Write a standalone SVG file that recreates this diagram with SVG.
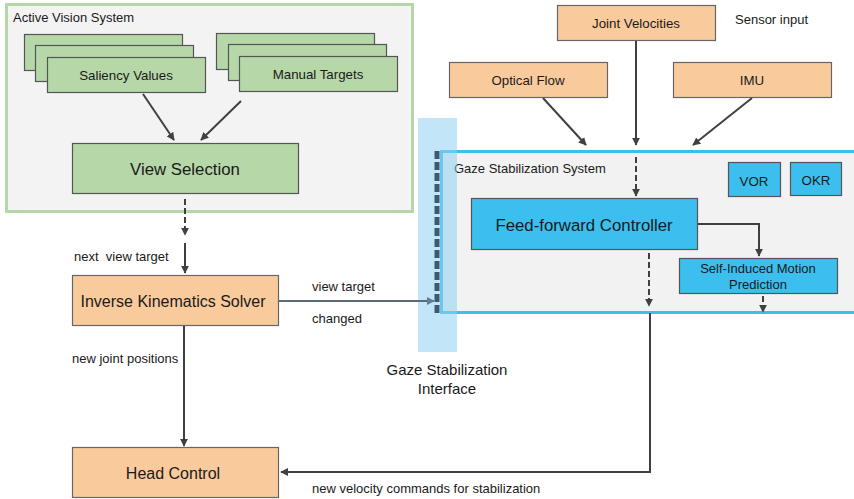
<svg xmlns="http://www.w3.org/2000/svg" width="854" height="499" viewBox="0 0 854 499">
<defs>
<style>
text{font-family:"Liberation Sans",Arial,sans-serif;fill:#1a1a1a}
.g{fill:#b6d7a8;stroke:#555;stroke-width:1.2}
.o{fill:#f9cb9c;stroke:#666;stroke-width:1.2}
.b{fill:#3cbfee;stroke:#555;stroke-width:1.2}
.c{fill:none;stroke:#404040;stroke-width:2}
.d{fill:none;stroke:#404040;stroke-width:2;stroke-dasharray:6,3}
.s12{font-size:13px}
.s13{font-size:13.3px}
.s16{font-size:16.8px}
.s15{font-size:16px}
.s14{font-size:15px}
</style>
<marker id="ah" viewBox="0 0 10 10" refX="9" refY="5" markerWidth="4" markerHeight="4" orient="auto"><path d="M0,0L10,5L0,10z" fill="#404040"/></marker>
<marker id="ahb" viewBox="0 0 10 10" refX="9" refY="5" markerWidth="4" markerHeight="4" orient="auto"><path d="M0,0L10,5L0,10z" fill="#5b7f95"/></marker>
</defs>
<rect width="854" height="499" fill="#fff"/>

<g id="active-vision-system">
<rect x="6.5" y="4.5" width="406" height="207" fill="#f3f3f3" stroke="#b6d7a8" stroke-width="3"/>
<text x="13" y="22" class="s12">Active Vision System</text>
</g>

<g id="gaze-stabilization-system">
<rect x="441.5" y="151.5" width="420" height="161" fill="#f2f2f2" stroke="#3cbfee" stroke-width="3"/>
<text x="454" y="173" class="s12">Gaze Stabilization System</text>
</g>

<g id="gaze-stabilization-interface">
<rect x="418" y="118" width="39" height="234" fill="#8fd0f2" fill-opacity="0.55"/>
<line x1="437" y1="151" x2="437" y2="314" stroke="#3d5a6e" stroke-width="5" stroke-dasharray="8,3"/>
<text x="447" y="375" class="s14" text-anchor="middle">Gaze Stabilization</text>
<text x="447" y="394" class="s14" text-anchor="middle">Interface</text>
</g>

<g id="saliency-values">
<rect x="24.5" y="34.5" width="158" height="36" class="g"/>
<rect x="35.5" y="45.5" width="158" height="36" class="g"/>
<rect x="47.5" y="57.5" width="158" height="35" class="g"/>
<text x="126" y="80" class="s13" text-anchor="middle">Saliency Values</text>
</g>

<g id="manual-targets">
<rect x="216.5" y="33.5" width="158" height="36" class="g"/>
<rect x="228.5" y="44.5" width="158" height="36" class="g"/>
<rect x="239.5" y="56.5" width="158" height="35" class="g"/>
<text x="318" y="79" class="s13" text-anchor="middle">Manual Targets</text>
</g>

<g id="view-selection">
<rect x="72.5" y="143.5" width="226" height="50" class="g"/>
<text x="185" y="175" class="s16" text-anchor="middle">View Selection</text>
</g>

<g id="inverse-kinematics-solver">
<rect x="72.5" y="275.5" width="206" height="50" class="o"/>
<text x="173" y="307" class="s15" text-anchor="middle">Inverse Kinematics Solver</text>
</g>

<g id="head-control">
<rect x="72.5" y="447.5" width="206" height="50" class="o"/>
<text x="173" y="479" class="s15" text-anchor="middle">Head Control</text>
</g>

<g id="joint-velocities">
<rect x="557.5" y="5.5" width="158" height="35" class="o"/>
<text x="636" y="28" class="s13" text-anchor="middle">Joint Velocities</text>
</g>
<g id="sensor-input-label"><text x="735" y="24" class="s12">Sensor input</text></g>

<g id="optical-flow">
<rect x="449.5" y="62.5" width="158" height="35" class="o"/>
<text x="528" y="85" class="s13" text-anchor="middle">Optical Flow</text>
</g>

<g id="imu">
<rect x="673.5" y="62.5" width="158" height="35" class="o"/>
<text x="752" y="85" class="s13" text-anchor="middle">IMU</text>
</g>

<g id="vor">
<rect x="728.5" y="162.5" width="52" height="34" class="b"/>
<text x="754" y="186" class="s13" text-anchor="middle">VOR</text>
</g>

<g id="okr">
<rect x="790.5" y="162.5" width="51" height="33" class="b"/>
<text x="816" y="185" class="s13" text-anchor="middle">OKR</text>
</g>

<g id="feed-forward-controller">
<rect x="471.5" y="198.5" width="226" height="51" class="b"/>
<text x="584" y="231" class="s16" text-anchor="middle">Feed-forward Controller</text>
</g>

<g id="self-induced-motion-prediction">
<rect x="679.5" y="258.5" width="158" height="35" class="b"/>
<text x="758" y="273" class="s12" text-anchor="middle">Self-Induced Motion</text>
<text x="758" y="289" class="s12" text-anchor="middle">Prediction</text>
</g>

<g id="connectors">
<line x1="143" y1="94" x2="174" y2="140" class="c" marker-end="url(#ah)"/>
<line x1="241" y1="101" x2="201" y2="140" class="c" marker-end="url(#ah)"/>
<line x1="185" y1="199" x2="185" y2="235" class="d" marker-end="url(#ah)"/>
<line x1="185" y1="243" x2="185" y2="273" class="c" marker-end="url(#ah)"/>
<text x="74" y="261" class="s12" xml:space="preserve">next  view target</text>
<line x1="278" y1="301" x2="434" y2="301" stroke="#5b6b78" stroke-width="2" marker-end="url(#ahb)"/>
<text x="312" y="291" class="s12">view target</text>
<text x="312" y="323" class="s12">changed</text>
<line x1="184" y1="326" x2="184" y2="446" class="c" marker-end="url(#ah)"/>
<text x="72" y="363" class="s12">new joint positions</text>
<polyline points="650,313 650,472 281,472" class="c" marker-end="url(#ah)"/>
<text x="312" y="493" class="s12">new velocity commands for stabilization</text>
<line x1="636" y1="41" x2="636" y2="145" class="c" marker-end="url(#ah)"/>
<line x1="543" y1="98" x2="586" y2="145" class="c" marker-end="url(#ah)"/>
<line x1="752" y1="98" x2="693" y2="145" class="c" marker-end="url(#ah)"/>
<line x1="636" y1="157" x2="636" y2="196" class="d" marker-end="url(#ah)"/>
<polyline points="698,224 759,224 759,256" class="c" marker-end="url(#ah)"/>
<line x1="649" y1="253" x2="649" y2="306" class="d" marker-end="url(#ah)"/>
<line x1="763" y1="296" x2="763" y2="312" class="d" marker-end="url(#ah)"/>
</g>
</svg>
